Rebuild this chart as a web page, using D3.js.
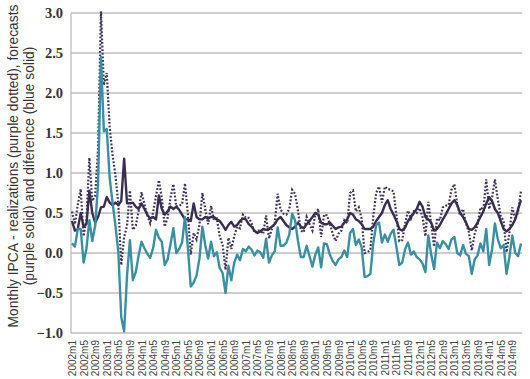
<!DOCTYPE html>
<html>
<head>
<meta charset="utf-8">
<script src="https://cdn.jsdelivr.net/npm/d3@7"></script>
<style>
  html, body { margin: 0; padding: 0; background: #fff; }
  svg { display: block; }
</style>
</head>
<body>
<div id="chart"></div>
<script>
// monthly categories 2002m1 .. 2014m12
const years = d3.range(2002, 2015);
const months = d3.range(1, 13);
const categories = years.flatMap(y => months.map(m => `${y}m${m}`));

// realized monthly IPCA (purple dotted)
const realized = [
  0.52, 0.36, 0.60, 0.80, 0.21, 0.42, 1.19, 0.65, 0.72, 1.31, 3.02, 2.10,
  2.25, 1.57, 1.23, 0.97, 0.61, -0.15, 0.20, 0.34, 0.78, 0.29, 0.34, 0.52,
  0.76, 0.61, 0.47, 0.37, 0.51, 0.71, 0.91, 0.69, 0.33, 0.44, 0.69, 0.86,
  0.58, 0.59, 0.61, 0.87, 0.49, -0.02, 0.25, 0.17, 0.35, 0.75, 0.55, 0.36,
  0.59, 0.41, 0.43, 0.21, 0.10, -0.21, 0.19, 0.05, 0.21, 0.33, 0.31, 0.48,
  0.44, 0.44, 0.37, 0.25, 0.28, 0.28, 0.24, 0.47, 0.18, 0.30, 0.38, 0.74,
  0.54, 0.49, 0.48, 0.55, 0.79, 0.74, 0.53, 0.28, 0.26, 0.45, 0.36, 0.28,
  0.48, 0.55, 0.20, 0.48, 0.47, 0.36, 0.24, 0.15, 0.24, 0.28, 0.41, 0.37,
  0.75, 0.78, 0.52, 0.57, 0.43, 0.00, 0.01, 0.04, 0.45, 0.75, 0.83, 0.63,
  0.83, 0.80, 0.79, 0.77, 0.47, 0.15, 0.16, 0.37, 0.53, 0.43, 0.52, 0.50,
  0.56, 0.45, 0.21, 0.64, 0.36, 0.08, 0.43, 0.41, 0.57, 0.59, 0.60, 0.79,
  0.86, 0.60, 0.47, 0.55, 0.37, 0.26, 0.03, 0.24, 0.35, 0.57, 0.54, 0.92,
  0.55, 0.69, 0.92, 0.67, 0.46, 0.40, 0.01, 0.25, 0.57, 0.42, 0.51, 0.78
];

// forecasts (purple solid)
const forecast = [
  0.40, 0.28, 0.30, 0.50, 0.33, 0.36, 0.78, 0.50, 0.38, 0.45, 0.57, 0.58,
  0.70, 0.63, 0.60, 0.63, 0.60, 0.65, 1.18, 0.62, 0.62, 0.63, 0.58, 0.55,
  0.62, 0.55, 0.48, 0.43, 0.45, 0.42, 0.72, 0.55, 0.48, 0.52, 0.58, 0.55,
  0.58, 0.54, 0.48, 0.42, 0.42, 0.40, 0.62, 0.45, 0.42, 0.42, 0.45, 0.43,
  0.45, 0.45, 0.42, 0.40, 0.35, 0.29, 0.35, 0.39, 0.33, 0.35, 0.40, 0.43,
  0.42, 0.36, 0.33, 0.28, 0.25, 0.27, 0.30, 0.29, 0.30, 0.33, 0.36, 0.42,
  0.45, 0.40, 0.35, 0.32, 0.30, 0.33, 0.38, 0.33, 0.31, 0.36, 0.40, 0.45,
  0.50, 0.48, 0.38, 0.36, 0.36, 0.38, 0.34, 0.30, 0.32, 0.33, 0.38, 0.42,
  0.50, 0.48, 0.42, 0.40, 0.36, 0.30, 0.30, 0.30, 0.33, 0.40, 0.45, 0.50,
  0.60, 0.66, 0.55, 0.48, 0.40, 0.30, 0.28, 0.32, 0.40, 0.45, 0.50, 0.55,
  0.64, 0.58, 0.45, 0.42, 0.38, 0.28, 0.30, 0.35, 0.42, 0.48, 0.55, 0.62,
  0.66, 0.60, 0.50, 0.45, 0.38, 0.30, 0.29, 0.32, 0.38, 0.45, 0.52, 0.62,
  0.70, 0.65, 0.55, 0.50, 0.40, 0.30, 0.27, 0.30, 0.35, 0.42, 0.55, 0.66
];

// difference realized - forecast (blue solid)
const difference = [
  0.12, 0.08, 0.30, 0.30, -0.12, 0.06, 0.41, 0.15, 0.34, 0.86, 2.45, 1.52,
  1.55, 0.94, 0.63, 0.34, 0.01, -0.80, -0.98, -0.28, 0.16, -0.34, -0.24, -0.03,
  0.14, 0.06, -0.01, -0.06, 0.06, 0.29, 0.19, 0.14, -0.15, -0.08, 0.11, 0.31,
  0.00, 0.05, 0.13, 0.45, 0.07, -0.42, -0.37, -0.28, -0.07, 0.33, 0.10, -0.07,
  0.14, -0.04, 0.01, -0.19, -0.25, -0.50, -0.16, -0.34, -0.12, -0.02, -0.09, 0.05,
  0.02, 0.08, 0.04, -0.03, 0.03, 0.01, -0.06, 0.18, -0.12, -0.03, 0.02, 0.32,
  0.09, 0.09, 0.13, 0.23, 0.49, 0.41, 0.15, -0.05, -0.05, 0.09, -0.04, -0.17,
  -0.02, 0.07, -0.18, 0.12, 0.11, -0.02, -0.10, -0.15, -0.08, -0.05, 0.03, -0.05,
  0.25, 0.30, 0.10, 0.17, 0.07, -0.30, -0.29, -0.26, 0.12, 0.35, 0.38, 0.13,
  0.23, 0.14, 0.24, 0.29, 0.07, -0.15, -0.12, 0.05, 0.13, -0.02, 0.02, -0.05,
  -0.08, -0.13, -0.24, 0.22, -0.02, -0.20, 0.13, 0.06, 0.15, 0.11, 0.05, 0.17,
  0.20, 0.00, -0.03, 0.10, -0.01, -0.04, -0.26, -0.08, -0.03, 0.12, 0.02, 0.30,
  -0.15, 0.04, 0.37, 0.17, 0.06, 0.10, -0.26, -0.05, 0.22, 0.00, -0.04, 0.12
];

const yTicks = [-1.0, -0.5, 0.0, 0.5, 1.0, 1.5, 2.0, 2.5, 3.0];
const xTickLabels = categories.filter((c, i) => i % 4 === 0);

const width = 530;
const height = 379;
const margin = { top: 13, right: 9, bottom: 46, left: 72 };
const plotW = width - margin.left - margin.right;
const plotH = height - margin.top - margin.bottom;

const svg = d3.select('#chart')
  .append('svg')
  .attr('width', width)
  .attr('height', height);

const plot = svg.append('g')
  .attr('transform', `translate(${margin.left},${margin.top})`);

const x = d3.scalePoint()
  .domain(categories)
  .range([0, plotW]);

const y = d3.scaleLinear()
  .domain([-1, 3])
  .range([plotH, 0]);

// grid lines
plot.append('g')
  .selectAll('line')
  .data(yTicks)
  .join('line')
  .attr('x1', -1)
  .attr('x2', plotW + 1)
  .attr('y1', d => y(d))
  .attr('y2', d => y(d))
  .attr('stroke', '#bdbdbd')
  .attr('stroke-width', 1.3);

// left axis line
plot.append('line')
  .attr('x1', -1).attr('x2', -1)
  .attr('y1', 0).attr('y2', plotH)
  .attr('stroke', '#bdbdbd')
  .attr('stroke-width', 1.3);

// y axis labels
const yAxis = d3.axisLeft(y)
  .tickValues(yTicks)
  .tickFormat(d3.format('.1f'))
  .tickSize(0)
  .tickPadding(9);

plot.append('g')
  .call(yAxis)
  .call(g => g.select('.domain').remove())
  .selectAll('text')
  .attr('font-family', '"Liberation Serif", "DejaVu Serif", serif')
  .attr('font-size', 14.5)
  .attr('font-weight', 'bold')
  .attr('fill', '#333');

// x axis labels, rotated
const xAxis = d3.axisBottom(x)
  .tickValues(xTickLabels)
  .tickSize(0)
  .tickPadding(0);

plot.append('g')
  .attr('transform', `translate(0,${plotH})`)
  .call(xAxis)
  .call(g => g.select('.domain').remove())
  .selectAll('text')
  .attr('font-family', '"Liberation Sans", Arial, sans-serif')
  .attr('font-size', 10)
  .attr('fill', '#444')
  .attr('text-anchor', 'end')
  .attr('dy', '0.35em')
  .attr('transform', 'translate(0,7) rotate(-90)');

// lines
const line = d3.line()
  .x((d, i) => x(categories[i]))
  .y(d => y(d));

plot.append('path')
  .datum(realized)
  .attr('fill', 'none')
  .attr('stroke', '#3e3358')
  .attr('stroke-width', 2.2)
  .attr('stroke-dasharray', '1.8,1.8')
  .attr('d', line);

plot.append('path')
  .datum(forecast)
  .attr('fill', 'none')
  .attr('stroke', '#3a2d52')
  .attr('stroke-width', 2.4)
  .attr('stroke-linejoin', 'round')
  .attr('d', line);

plot.append('path')
  .datum(difference)
  .attr('fill', 'none')
  .attr('stroke', '#3a90a2')
  .attr('stroke-width', 2.4)
  .attr('stroke-linejoin', 'round')
  .attr('d', line);

// y title (two lines)
const titleLines = [
  'Monthly IPCA - realizations (purple dotted), forecasts',
  '(purple solid) and diference (blue solid)'
];
const title = svg.append('text')
  .attr('transform', `translate(18,166) rotate(-90)`)
  .attr('text-anchor', 'middle')
  .attr('font-family', '"Liberation Sans", Arial, sans-serif')
  .attr('font-size', 13.8)
  .attr('fill', '#333');

title.selectAll('tspan')
  .data(titleLines)
  .join('tspan')
  .attr('x', 0)
  .attr('dy', (d, i) => i === 0 ? 0 : 15.5)
  .text(d => d);
</script>
</body>
</html>
